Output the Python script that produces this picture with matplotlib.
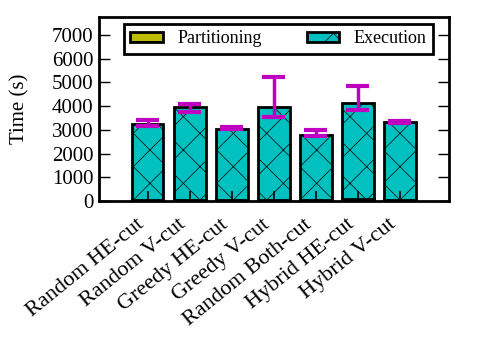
import matplotlib
matplotlib.use("Agg")
import matplotlib.pyplot as plt
import matplotlib.transforms as mtrans
import numpy as np

categories = ["Random HE-cut", "Random V-cut", "Greedy HE-cut", "Greedy V-cut",
              "Random Both-cut", "Hybrid HE-cut", "Hybrid V-cut"]
partitioning = [40, 40, 40, 40, 40, 100, 40]
part_err_hi = [420, 420, 420, 420, 420, 400, 420]
execution_total = [3240, 3940, 3050, 3980, 2790, 4110, 3310]
exec_err_lo = [3180, 3770, 3040, 3520, 2720, 3830, 3280]
exec_err_hi = [3420, 4080, 3100, 5210, 2990, 4850, 3360]
yticks = [0, 1000, 2000, 3000, 4000, 5000, 6000, 7000]

plt.rcParams['font.family'] = ['Liberation Serif', 'DejaVu Serif']
plt.rcParams['hatch.linewidth'] = 0.5

fig = plt.figure(figsize=(4.98, 3.41), dpi=100)
ax = fig.add_axes([0.1988, 0.4106, 0.7028, 0.5394])

x = np.arange(len(categories))
w = 0.75
part = np.array(partitioning)
exe = np.array(execution_total) - part

ax.bar(x, part, w, color='#bcbc00', edgecolor='black', linewidth=2, hatch='-',
       label='Partitioning', zorder=2)
ax.bar(x, exe, w, bottom=part, color='#00c0c0', edgecolor='black', linewidth=2,
       hatch='x', label='Execution', zorder=2)

# partitioning error bars
ax.vlines(x, part, np.array(part_err_hi), color='black', linewidth=1.2, zorder=3)

lo = np.array(exec_err_lo)
hi = np.array(exec_err_hi)
ax.vlines(x, lo, hi, color='#c000c0', linewidth=2.5, zorder=4)
ax.hlines(lo, x - 0.27, x + 0.27, color='#c000c0', linewidth=3, zorder=4)
ax.hlines(hi, x - 0.27, x + 0.27, color='#c000c0', linewidth=3, zorder=4)

ax.set_xlim(-1.16, 7.17)
ax.set_ylim(0, 7750)
ax.set_yticks(yticks)
ax.set_yticklabels([str(v) for v in yticks], fontsize=15)
ax.set_xticks(x)
ax.set_xticklabels(categories, rotation=39, ha='right', va='top', fontsize=16)
offset = mtrans.ScaledTranslation(-4 / 100, 0, fig.dpi_scale_trans)
for lab in ax.get_xticklabels():
    lab.set_transform(lab.get_transform() + offset)
ax.tick_params(axis='x', length=0, pad=10)
ax.tick_params(axis='y', direction='in', length=8, width=1, right=True, pad=4)
for s in ax.spines.values():
    s.set_linewidth(2)
ax.set_ylabel('Time (s)', fontsize=15, labelpad=16)

leg = ax.legend(loc='upper left', bbox_to_anchor=(0.071, 0.962, 0.883, 0),
                mode='expand', ncol=2, fontsize=13, frameon=True, fancybox=False,
                edgecolor='black', handlelength=1.8, handleheight=0.55,
                borderaxespad=0, columnspacing=2.0, borderpad=0.35)
leg.get_frame().set_linewidth(2)
leg.get_frame().set_alpha(1)

fig.savefig('out.png', dpi=100)
